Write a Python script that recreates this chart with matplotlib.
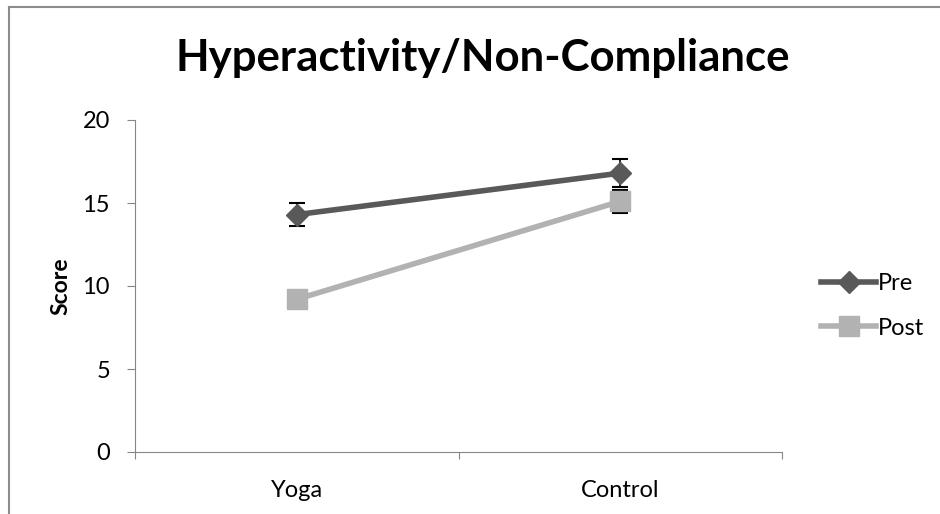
import matplotlib.pyplot as plt
from matplotlib.lines import Line2D

groups = ['Yoga', 'Control']
pre = [14.3, 16.8]
pre_err = [0.7, 0.85]
post = [9.2, 15.1]
post_err = [0.15, 0.7]
yticks = [0, 5, 10, 15, 20]

plt.rcParams['font.family'] = ['Lato', 'DejaVu Sans']

fig = plt.figure(figsize=(9.4, 5.14), dpi=100)
ax = fig.add_axes([135/940, 62/514, 647/940, 332/514])

x = [0.5, 1.5]
ax.errorbar(x, pre, yerr=pre_err, color='#595959', lw=4, marker='D', ms=11,
            ecolor='black', elinewidth=1.2, capsize=6, capthick=1.5, zorder=3)
ax.errorbar(x, post, yerr=post_err, color='#b2b2b2', lw=4, marker='s', ms=14,
            ecolor='black', elinewidth=1.2, capsize=6, capthick=1.5, zorder=2)

ax.set_xlim(0, 2)
ax.set_ylim(0, 20)
ax.set_yticks(yticks)
ax.set_xticks([0, 1, 2])
ax.set_xticklabels([])
ax.set_xticks(x, minor=True)
ax.set_xticklabels(groups, minor=True, fontsize=17)
ax.tick_params(axis='x', which='minor', length=0, pad=20)
ax.tick_params(axis='x', which='major', length=5, color='#868686', direction='out')
ax.tick_params(axis='y', length=6, color='#868686', labelsize=17, pad=12)
for s in ['top', 'right']:
    ax.spines[s].set_visible(False)
for s in ['left', 'bottom']:
    ax.spines[s].set_color('#868686')
ax.set_ylabel('Score', fontsize=16.5, fontweight='bold', labelpad=8)

fig.text(0.514, 0.887, 'Hyperactivity/Non-Compliance', ha='center', va='center',
         fontsize=31.5, fontweight='bold')

handles = [Line2D([], [], color='#595959', lw=4, marker='D', ms=11),
           Line2D([], [], color='#b2b2b2', lw=4, marker='s', ms=14)]
ax.legend(handles, ['Pre', 'Post'], loc='center left', bbox_to_anchor=(1.06, 0.44),
          frameon=False, fontsize=17, handlelength=2.35, handletextpad=0.05,
          labelspacing=1.0, borderpad=0, borderaxespad=0)

fig.add_artist(Line2D([9/940, 9/940], [0, 1 - 7/514], transform=fig.transFigure,
                      color='#8c8c8c', lw=1.5))
fig.add_artist(Line2D([9/940, 1], [1 - 7/514, 1 - 7/514], transform=fig.transFigure,
                      color='#8c8c8c', lw=1.5))

fig.savefig('out.png', dpi=100)
